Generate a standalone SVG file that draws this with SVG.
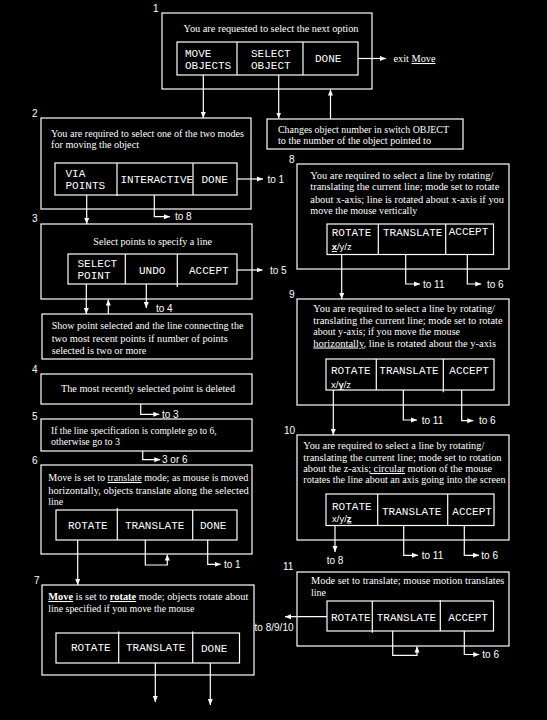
<svg xmlns="http://www.w3.org/2000/svg" width="547" height="720" viewBox="0 0 547 720">
<defs>
<marker id="ah" viewBox="0 0 6 6" refX="6" refY="3" markerWidth="6" markerHeight="6" markerUnits="userSpaceOnUse" orient="auto">
<path d="M0,0.5 L6,3 L0,5.5 z" fill="#fff"/>
</marker>
<style>
rect,line,polyline{fill:none;stroke:#fff;stroke-width:1.2}
.c line,.c polyline{marker-end:url(#ah)}
text{fill:#fff}
.t{font-family:"Liberation Serif",serif;font-size:10.5px}
.b{font-family:"Liberation Mono",monospace;font-size:11px}
.n{font-family:"Liberation Sans",sans-serif;font-size:10px}
.x{font-family:"Liberation Sans",sans-serif;font-size:9.5px}
.u{text-decoration:underline}
.bu{text-decoration:underline;font-weight:bold}
</style>
</defs>
<rect x="0" y="0" width="547" height="720" style="fill:#000;stroke:none"/>

<g id="node1">
<text class="n" x="153" y="12">1</text>
<rect x="162" y="13" width="210" height="76"/>
<text class="t" x="183.5" y="32" textLength="175" lengthAdjust="spacingAndGlyphs">You are requested to select the next option</text>
<rect x="177" y="42" width="181" height="33"/>
<line x1="237" y1="42" x2="237" y2="75"/>
<line x1="303" y1="42" x2="303" y2="75"/>
<text class="b" x="185" y="57">MOVE</text>
<text class="b" x="185" y="69">OBJECTS</text>
<text class="b" x="251" y="57">SELECT</text>
<text class="b" x="251" y="69">OBJECT</text>
<text class="b" x="315" y="62">DONE</text>
</g>

<g id="nodeChange">
<rect x="267" y="119" width="196" height="30"/>
<text class="t" x="278" y="133" textLength="171" lengthAdjust="spacingAndGlyphs">Changes object number in switch OBJECT</text>
<text class="t" x="278" y="144" textLength="153" lengthAdjust="spacingAndGlyphs">to the number of the object pointed to</text>
</g>

<g id="node2">
<text class="n" x="32" y="117">2</text>
<rect x="41" y="118" width="210" height="91"/>
<text class="t" x="51" y="137" textLength="193" lengthAdjust="spacingAndGlyphs">You are required to select one of the two modes</text>
<text class="t" x="51" y="147.5" textLength="88" lengthAdjust="spacingAndGlyphs">for moving the object</text>
<rect x="55" y="163" width="182" height="32"/>
<line x1="117" y1="163" x2="117" y2="196"/>
<line x1="193" y1="163" x2="193" y2="195"/>
<text class="b" x="65.5" y="177">VIA</text>
<text class="b" x="65.5" y="189">POINTS</text>
<text class="b" x="120.5" y="183">INTERACTIVE</text>
<text class="b" x="201.5" y="183">DONE</text>
</g>

<g id="node3">
<text class="n" x="32" y="222">3</text>
<rect x="41" y="224" width="211" height="75"/>
<text class="t" x="93.3" y="245" textLength="118.7" lengthAdjust="spacingAndGlyphs">Select points to specify a line</text>
<rect x="68" y="254" width="169" height="30"/>
<line x1="125.3" y1="254" x2="125.3" y2="284"/>
<line x1="177.3" y1="254" x2="177.3" y2="287"/>
<text class="b" x="77.5" y="267">SELECT</text>
<text class="b" x="77.5" y="279">POINT</text>
<text class="b" x="139" y="274">UNDO</text>
<text class="b" x="189" y="274">ACCEPT</text>
</g>

<g id="nodeShow">
<rect x="42" y="314" width="210" height="45"/>
<text class="t" x="51.7" y="329" textLength="191.7" lengthAdjust="spacingAndGlyphs">Show point selected and the line connecting the</text>
<text class="t" x="51.7" y="342" textLength="176" lengthAdjust="spacingAndGlyphs">two most recent points if number of points</text>
<text class="t" x="51.7" y="354" textLength="94.7" lengthAdjust="spacingAndGlyphs">selected is two or more</text>
</g>

<g id="node4">
<text class="n" x="32" y="373">4</text>
<rect x="41" y="374" width="211" height="30"/>
<text class="t" x="61" y="392" textLength="174" lengthAdjust="spacingAndGlyphs">The most recently selected point is deleted</text>
</g>

<g id="node5">
<text class="n" x="32" y="419.5">5</text>
<rect x="41" y="419" width="211" height="32"/>
<text class="t" x="51" y="434" textLength="165.7" lengthAdjust="spacingAndGlyphs">If the line specification is complete go to 6,</text>
<text class="t" x="51" y="444.5" textLength="69" lengthAdjust="spacingAndGlyphs">otherwise go to 3</text>
</g>

<g id="node6">
<text class="n" x="32" y="464">6</text>
<rect x="41" y="465" width="211" height="89"/>
<text class="t" x="48.3" y="481" textLength="200" lengthAdjust="spacingAndGlyphs">Move is set to <tspan class="u">translate</tspan> mode; as mouse is moved</text>
<text class="t" x="48.3" y="493.5" textLength="200.5" lengthAdjust="spacingAndGlyphs">horizontally, objects translate along the selected</text>
<text class="t" x="48.3" y="504.5" textLength="15" lengthAdjust="spacingAndGlyphs">line</text>
<rect x="56" y="510" width="181" height="30"/>
<line x1="117.3" y1="508" x2="117.3" y2="540"/>
<line x1="192.7" y1="510" x2="192.7" y2="540"/>
<text class="b" x="68" y="528.5">ROTATE</text>
<text class="b" x="125" y="529">TRANSLATE</text>
<text class="b" x="200" y="529">DONE</text>
</g>

<g id="node7">
<text class="n" x="34" y="584">7</text>
<rect x="42" y="585" width="212" height="90"/>
<text class="t" x="48.3" y="600" textLength="200" lengthAdjust="spacingAndGlyphs"><tspan class="bu">Move</tspan> is set to <tspan class="bu">rotate</tspan> mode; objects rotate about</text>
<text class="t" x="48.3" y="612" textLength="146" lengthAdjust="spacingAndGlyphs">line specified if you move the mouse</text>
<rect x="56" y="633" width="183.5" height="30"/>
<line x1="118.7" y1="631.5" x2="118.7" y2="663"/>
<line x1="192.7" y1="631.5" x2="192.7" y2="663"/>
<text class="b" x="71" y="651">ROTATE</text>
<text class="b" x="126" y="651">TRANSLATE</text>
<text class="b" x="201" y="652">DONE</text>
</g>

<g id="node8">
<text class="n" x="289" y="163">8</text>
<rect x="297" y="164" width="212" height="105"/>
<text class="t" x="310.3" y="178.5" textLength="183" lengthAdjust="spacingAndGlyphs">You are required to select a line by rotating/</text>
<text class="t" x="310.3" y="190" textLength="189" lengthAdjust="spacingAndGlyphs">translating the current line; mode set to rotate</text>
<text class="t" x="310.3" y="202.5" textLength="193.7" lengthAdjust="spacingAndGlyphs">about x-axis; line is rotated about x-axis if you</text>
<text class="t" x="310.3" y="214" textLength="107" lengthAdjust="spacingAndGlyphs">move the mouse vertically</text>
<rect x="327" y="224" width="166.5" height="30.5"/>
<line x1="378.3" y1="224" x2="378.3" y2="254.5"/>
<line x1="445.7" y1="224" x2="445.7" y2="254.5"/>
<text class="b" x="331.7" y="236">ROTATE</text>
<text class="x" x="331.7" y="250"><tspan class="bu">x</tspan>/y/z</text>
<text class="b" x="383" y="236">TRANSLATE</text>
<text class="b" x="448.7" y="235">ACCEPT</text>
</g>

<g id="node9">
<text class="n" x="289" y="298">9</text>
<rect x="297" y="299" width="212" height="106"/>
<text class="t" x="313.3" y="312" textLength="181.7" lengthAdjust="spacingAndGlyphs">You are required to select a line by rotating/</text>
<text class="t" x="313.3" y="323.5" textLength="189.3" lengthAdjust="spacingAndGlyphs">translating the current line; mode set to rotate</text>
<text class="t" x="313.3" y="334.5" textLength="146.7" lengthAdjust="spacingAndGlyphs">about y-axis; if you move the mouse</text>
<text class="t" x="313.3" y="346.5" textLength="182.7" lengthAdjust="spacingAndGlyphs"><tspan class="u">horizontally</tspan>, line is rotated about the y-axis</text>
<rect x="326" y="359" width="168" height="31"/>
<line x1="376.3" y1="359" x2="376.3" y2="390"/>
<line x1="443.3" y1="359" x2="443.3" y2="392.3"/>
<text class="b" x="331" y="373.5">ROTATE</text>
<text class="x" x="331" y="388">x/<tspan class="bu">y</tspan>/z</text>
<text class="b" x="379.3" y="373.5">TRANSLATE</text>
<text class="b" x="449.3" y="373.5">ACCEPT</text>
</g>

<g id="node10">
<text class="n" x="284" y="434">10</text>
<rect x="297" y="435" width="212" height="105"/>
<text class="t" x="303.3" y="449" textLength="181" lengthAdjust="spacingAndGlyphs">You are required to select a line by rotating/</text>
<text class="t" x="303.3" y="461" textLength="198.3" lengthAdjust="spacingAndGlyphs">translating the current line; mode set to rotation</text>
<text class="t" x="303.3" y="472" textLength="188.7" lengthAdjust="spacingAndGlyphs">about the z-axis<tspan class="u">; circular</tspan> motion of the mouse</text>
<text class="t" x="303.3" y="483" textLength="202.3" lengthAdjust="spacingAndGlyphs">rotates the line about an axis going into the screen</text>
<rect x="326" y="494" width="168" height="31.5"/>
<line x1="377.7" y1="494" x2="377.7" y2="525.5"/>
<line x1="447.7" y1="494" x2="447.7" y2="525.5"/>
<text class="b" x="332" y="509.5">ROTATE</text>
<text class="x" x="332" y="521.5">x/y/<tspan class="bu">z</tspan></text>
<text class="b" x="382" y="514.5">TRANSLATE</text>
<text class="b" x="452.3" y="514.5">ACCEPT</text>
</g>

<g id="node11">
<text class="n" x="283" y="569.5">11</text>
<rect x="297" y="572" width="212" height="74"/>
<text class="t" x="311" y="584" textLength="193.3" lengthAdjust="spacingAndGlyphs">Mode set to translate; mouse motion translates</text>
<text class="t" x="311" y="596" textLength="15" lengthAdjust="spacingAndGlyphs">line</text>
<rect x="327" y="601" width="166.5" height="30"/>
<line x1="372.3" y1="601" x2="372.3" y2="632.7"/>
<line x1="440.3" y1="600" x2="440.3" y2="631"/>
<text class="b" x="331" y="621">ROTATE</text>
<text class="b" x="376.7" y="621">TRANSLATE</text>
<text class="b" x="448.3" y="621">ACCEPT</text>
</g>

<g id="connectors" class="c">
<line x1="358" y1="58.5" x2="386" y2="58.5"/>
<line x1="203.3" y1="75" x2="203.3" y2="118"/>
<line x1="278.7" y1="75" x2="278.7" y2="118.5"/>
<line x1="330.5" y1="119" x2="330.5" y2="89.5"/>
<line x1="237" y1="179" x2="263" y2="179"/>
<polyline points="154.3,195 154.3,216.7 170,216.7"/>
<line x1="86.7" y1="195" x2="86.7" y2="224"/>
<line x1="237" y1="270" x2="262.5" y2="270"/>
<line x1="86.3" y1="284" x2="86.3" y2="314"/>
<line x1="108.3" y1="314" x2="108.3" y2="299.5"/>
<line x1="146.3" y1="284" x2="146.3" y2="308"/>
<polyline points="140.7,404 140.7,414.3 159.3,414.3"/>
<polyline points="142.7,451 142.7,459.7 160.3,459.7"/>
<line x1="77.7" y1="540" x2="77.7" y2="585"/>
<polyline points="145.3,540 145.3,565 167.3,565 167.3,554.5"/>
<polyline points="207.7,540 207.7,564.3 220.7,564.3"/>
<line x1="155.3" y1="663" x2="155.3" y2="702"/>
<line x1="210.3" y1="663" x2="210.3" y2="705"/>
<line x1="341.7" y1="254.5" x2="341.7" y2="299"/>
<polyline points="405.7,254.5 405.7,284 420,284"/>
<polyline points="467.3,254.5 467.3,284 481.3,284"/>
<line x1="333.3" y1="390" x2="333.3" y2="435"/>
<polyline points="403.3,390 403.3,420 417,420"/>
<polyline points="461.7,390 461.7,420.7 473.3,420.7"/>
<line x1="335" y1="525.5" x2="335" y2="552"/>
<polyline points="403.7,525.5 403.7,555.3 418,555.3"/>
<polyline points="464.3,525.5 464.3,555.3 479,555.3"/>
<line x1="327" y1="616.7" x2="285" y2="616.7"/>
<polyline points="392.7,631 392.7,655.3 417,655.3 417,646.5"/>
<polyline points="464.3,631 464.3,654.5 479.3,654.5"/>
</g>

<g id="connector-labels">
<text class="t" x="393.5" y="62" textLength="42" lengthAdjust="spacingAndGlyphs">exit <tspan class="u">Move</tspan></text>
<text class="n" x="267.5" y="182.5">to 1</text>
<text class="n" x="175" y="219.5">to 8</text>
<text class="n" x="270" y="273.5">to 5</text>
<text class="n" x="156" y="311.5">to 4</text>
<text class="n" x="162" y="417.5">to 3</text>
<text class="n" x="162" y="463">3 or 6</text>
<text class="n" x="224" y="567.5">to 1</text>
<text class="n" x="423" y="287.5">to 11</text>
<text class="n" x="487" y="287.5">to 6</text>
<text class="n" x="421.7" y="423.5">to 11</text>
<text class="n" x="479" y="424">to 6</text>
<text class="n" x="335" y="563.5" text-anchor="middle">to 8</text>
<text class="n" x="421.7" y="558.5">to 11</text>
<text class="n" x="481.3" y="558.5">to 6</text>
<text class="n" x="293.5" y="630.5" text-anchor="end">to 8/9/10</text>
<text class="n" x="482.3" y="658">to 6</text>
</g>
</svg>
